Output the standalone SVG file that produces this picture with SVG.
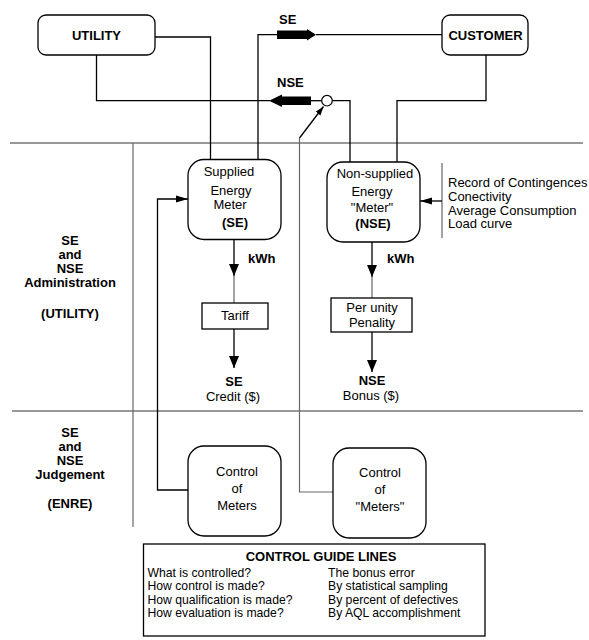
<svg xmlns="http://www.w3.org/2000/svg" width="589" height="640" viewBox="0 0 589 640">
<defs>
<style>
text{font-family:"Liberation Sans",Arial,sans-serif;font-size:13px;fill:#000}
.b{font-weight:bold}
.m{text-anchor:middle}
.g{font-size:12.2px}
.box{fill:#fff;stroke:#000;stroke-width:1.3}
.ln{fill:none;stroke:#000;stroke-width:1.3}
.gr{fill:none;stroke:#666;stroke-width:1.2}
.sep{fill:none;stroke:#333;stroke-width:1.2}
.thick{fill:#000;stroke:none}
</style>
<marker id="ah" markerUnits="userSpaceOnUse" markerWidth="12" markerHeight="8" refX="12" refY="4" orient="auto">
<path d="M0,0.5 L12,4 L0,7.5 Z" fill="#000"/>
</marker>
<marker id="ad" markerUnits="userSpaceOnUse" markerWidth="12" markerHeight="11" refX="12" refY="5.5" orient="auto">
<path d="M0,0.5 L12,5.5 L0,10.5 Z" fill="#000"/>
</marker>
<marker id="as" markerUnits="userSpaceOnUse" markerWidth="9" markerHeight="7" refX="9" refY="3.5" orient="auto">
<path d="M0,0.5 L9,3.5 L0,6.5 Z" fill="#000"/>
</marker>
</defs>
<rect width="589" height="640" fill="#fff"/>

<g id="separators">
<path class="sep" d="M10,143 H583"/>
<path class="sep" d="M12,411 H583"/>
<path class="gr" d="M133,143 V527"/>
</g>

<g id="section-labels">
<text class="b m" x="70" y="245">SE</text>
<text class="b m" x="70" y="259">and</text>
<text class="b m" x="70" y="273">NSE</text>
<text class="b m" x="70" y="287">Administration</text>
<text class="b m" x="70" y="318">(UTILITY)</text>
<text class="b m" x="70" y="437">SE</text>
<text class="b m" x="70" y="451">and</text>
<text class="b m" x="70" y="465">NSE</text>
<text class="b m" x="70" y="479">Judgement</text>
<text class="b m" x="70" y="508">(ENRE)</text>
</g>

<g id="connectors">
<path class="ln" d="M155,37 H210.5 V159"/>
<path class="ln" d="M258,159 V34.7 H277"/>
<path class="ln" d="M316,34.7 H442"/>
<polygon class="thick" points="277,30.5 307,30.5 307,29 316,34.7 307,40.5 307,39 277,39"/>
<text class="b" x="279" y="24">SE</text>
<path class="ln" d="M96.5,55 V100.7 H270"/>
<polygon class="thick" points="269,100.7 282,94.5 282,96.5 311,96.5 311,105 282,105 282,107"/>
<text class="b" x="277" y="87">NSE</text>
<path class="ln" d="M311,100.7 H321.7"/>
<circle cx="327" cy="100.7" r="5.3" fill="#fff" stroke="#000" stroke-width="1.2"/>
<path class="ln" d="M332.3,100.7 H350 V162"/>
<path class="ln" d="M486,55 V100.7 H397 V162"/>
<path class="ln" stroke-width="1" d="M299.5,138 L323.5,106.5" marker-end="url(#as)"/>
<path class="gr" d="M299.5,138 V492 H333"/>
<path class="ln" d="M189,490 H157.5 V199 H188" marker-end="url(#ah)"/>
<path class="ln" d="M234,239 V276" marker-end="url(#ad)"/>
<path class="gr" d="M234,276 V303"/>
<text class="b" x="248" y="263">kWh</text>
<path class="ln" d="M234,329 V368" marker-end="url(#ad)"/>
<path class="ln" d="M372,242 V277" marker-end="url(#ad)"/>
<path class="gr" d="M372,277 V298"/>
<text class="b" x="387" y="263">kWh</text>
<path class="ln" d="M372,332 V372" marker-end="url(#ad)"/>
<path class="gr" d="M442,163 V238"/>
<path class="ln" d="M442,201 H420" marker-end="url(#ah)"/>
</g>

<g id="utility">
<rect class="box" x="38" y="15" width="117" height="40" rx="8"/>
<text class="b m" x="96.5" y="40">UTILITY</text>
</g>

<g id="customer">
<rect class="box" x="442" y="15" width="86" height="40" rx="8"/>
<text class="b m" x="485.5" y="40">CUSTOMER</text>
</g>

<g id="se-meter">
<rect class="box" x="188" y="159.5" width="93" height="80" rx="16"/>
<text class="m" x="229" y="175.5">Supplied</text>
<text class="m" x="231" y="195">Energy</text>
<text class="m" x="230" y="209">Meter</text>
<text class="b m" x="235" y="227">(SE)</text>
</g>

<g id="nse-meter">
<rect class="box" x="327" y="162" width="93" height="80" rx="16"/>
<text class="m" x="375" y="178">Non-supplied</text>
<text class="m" x="372" y="196">Energy</text>
<text class="m" x="372" y="212">"Meter"</text>
<text class="b m" x="373" y="228">(NSE)</text>
</g>

<g id="nse-inputs">
<text x="448" y="187">Record of Contingences</text>
<text x="448" y="201">Conectivity</text>
<text x="448" y="214.5">Average Consumption</text>
<text x="448" y="228">Load curve</text>
</g>

<g id="tariff">
<rect class="box" x="202" y="303" width="66" height="26"/>
<text class="m" x="235" y="320">Tariff</text>
</g>

<g id="penality">
<rect class="box" x="331" y="298" width="81" height="34"/>
<text class="m" x="372" y="311.5">Per unity</text>
<text class="m" x="372" y="326.5">Penality</text>
</g>

<g id="se-credit">
<text class="b m" x="234" y="386">SE</text>
<text class="m" x="233" y="401">Credit ($)</text>
</g>

<g id="nse-bonus">
<text class="b m" x="372" y="385">NSE</text>
<text class="m" x="371" y="400">Bonus ($)</text>
</g>

<g id="control-meters">
<rect class="box" x="188" y="446" width="93" height="90" rx="16"/>
<text class="m" x="237" y="476">Control</text>
<text class="m" x="237" y="493">of</text>
<text class="m" x="237" y="510">Meters</text>
</g>

<g id="control-nse-meters">
<rect class="box" x="333" y="448" width="93" height="90" rx="16"/>
<text class="m" x="380" y="477">Control</text>
<text class="m" x="380" y="494">of</text>
<text class="m" x="380" y="511">"Meters"</text>
</g>

<g id="guide-lines">
<rect class="box" x="143.5" y="544" width="341.5" height="92" stroke-width="1.2"/>
<text class="b m" x="321" y="561">CONTROL GUIDE LINES</text>
<text class="g" x="147.5" y="576.5">What is controlled?</text>
<text class="g" x="147.5" y="590">How control is made?</text>
<text class="g" x="147.5" y="603.5">How qualification is made?</text>
<text class="g" x="147.5" y="617">How evaluation is made?</text>
<text class="g" x="328" y="576.5">The bonus error</text>
<text class="g" x="328" y="590">By statistical sampling</text>
<text class="g" x="328" y="603.5">By percent of defectives</text>
<text class="g" x="328" y="617">By AQL accomplishment</text>
</g>
</svg>
